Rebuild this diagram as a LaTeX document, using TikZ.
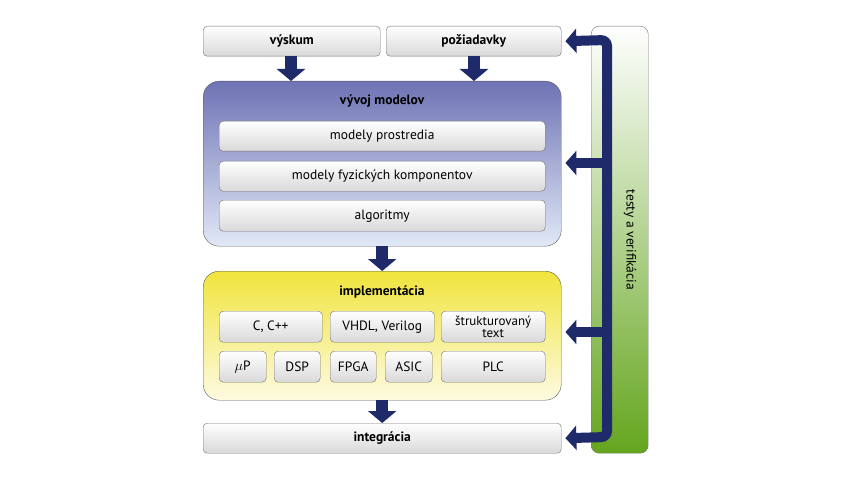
\documentclass[tikz,border=0pt]{standalone}
\usepackage{fontspec}
\setmainfont{PT Sans}
\usetikzlibrary{arrows.meta,calc}
\definecolor{navy}{HTML}{1F2A6B}
\begin{document}
\begin{tikzpicture}[x=1pt,y=-1pt,
 box/.style={draw=black!55,rounded corners=4pt,top color=white,bottom color=black!15,inner sep=0pt,anchor=north west,font=\fontsize{13.5}{14}\selectfont},
 big/.style={draw=black!65,rounded corners=16pt,inner sep=0pt,anchor=north west},
 ttl/.style={font=\bfseries\fontsize{13.5}{14}\selectfont},
 arr/.style={navy,line width=12pt,-{Triangle[width=28pt,length=12pt]}},
 fb/.style={navy,line width=10pt,-{Triangle[width=24pt,length=11pt]}}]
\useasboundingbox (0,0) rectangle (850,481);
\node[box,ttl,minimum width=177pt,minimum height=30pt] (vy) at (203,26) {výskum};
\node[box,ttl,minimum width=175pt,minimum height=30pt] (po) at (386,26) {požiadavky};
\node[big,minimum width=358pt,minimum height=165pt,top color={rgb,255:red,110;green,115;blue,180},bottom color={rgb,255:red,225;green,232;blue,246}] (vm) at (203,81) {};
\node[ttl] (vmt) at (382,101) {vývoj modelov};
\node[box,minimum width=326pt,minimum height=30pt] (mp) at (219,121) {modely prostredia};
\node[box,minimum width=326pt,minimum height=30pt] (mf) at (219,161) {modely fyzických komponentov};
\node[box,minimum width=326pt,minimum height=31pt] (al) at (219,200) {algoritmy};
\node[big,minimum width=358pt,minimum height=129pt,top color={rgb,255:red,240;green,228;blue,60},bottom color={rgb,255:red,253;green,250;blue,225}] (im) at (203,271) {};
\node[ttl] (imt) at (382,292) {implementácia};
\node[box,minimum width=103pt,minimum height=31pt] (c) at (219,311) {C, C++};
\node[box,minimum width=104pt,minimum height=31pt] (vh) at (330,311) {VHDL, Verilog};
\node[box,minimum width=104pt,minimum height=31pt,align=center,font=\fontsize{13}{12.5}\selectfont] (st) at (441,311) {štrukturovaný\\text};
\node[box,minimum width=47pt,minimum height=31pt] (mu) at (219,351) {$\mu$P};
\node[box,minimum width=46pt,minimum height=31pt] (ds) at (274,351) {DSP};
\node[box,minimum width=46pt,minimum height=31pt] (fp) at (330,351) {FPGA};
\node[box,minimum width=47pt,minimum height=31pt] (as) at (385,351) {ASIC};
\node[box,minimum width=104pt,minimum height=31pt] (pl) at (441,351) {PLC};
\node[box,ttl,minimum width=358pt,minimum height=30pt] (in) at (203,423) {integrácia};
\node[draw=black!55,rounded corners=8pt,top color=white,bottom color={rgb,255:red,100;green,165;blue,30},minimum width=57pt,minimum height=427pt,anchor=north west,inner sep=0pt] (tv) at (591,26) {};
\node[rotate=-90,font=\fontsize{13.5}{14}\selectfont] (tvt) at (630,240) {testy a verifikácia};
\draw[arr] (vy.south -| 291,0) -- (vm.north -| 291,0);
\draw[arr] (po.south -| 474,0) -- (vm.north -| 474,0);
\draw[arr] (vm.south) -- (im.north);
\draw[arr] (im.south) -- (in.north);
\draw[fb,rounded corners=6pt] (607,240) -- (607,40) -- ($(po.east)+(4,0)$);
\draw[fb,rounded corners=6pt] (607,240) -- (607,437) -- ($(in.east)+(4,0)$);
\draw[fb] (610,163) -- ($(vm.east|-0,163)+(4,0)$);
\draw[fb] (610,332) -- ($(im.east|-0,332)+(4,0)$);
\end{tikzpicture}
\end{document}
